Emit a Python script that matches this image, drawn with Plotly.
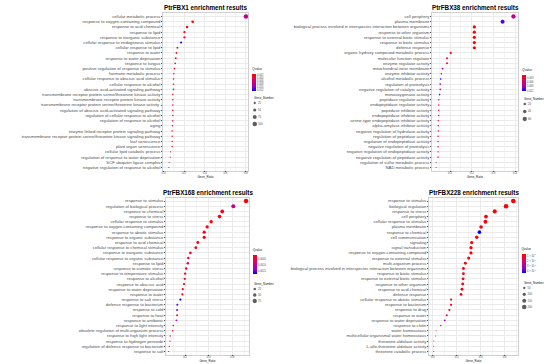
import plotly.graph_objects as go

W, H = 550, 364
FONT = "Liberation Sans, Arial, sans-serif"

# ---------------- PtrFBX1 ----------------
fbx1_terms = [
    "cellular metabolic process",
    "response to oxygen-containing compound",
    "response to acid chemical",
    "response to lipid",
    "response to inorganic substance",
    "cellular response to endogenous stimulus",
    "cellular response to lipid",
    "response to water",
    "response to water deprivation",
    "response to fungus",
    "positive regulation of response to stimulus",
    "hormone metabolic process",
    "cellular response to abscisic acid stimulus",
    "cellular response to alcohol",
    "abscisic acid-activated signaling pathway",
    "transmembrane receptor protein serine/threonine kinase activity",
    "transmembrane receptor protein kinase activity",
    "transmembrane receptor protein serine/threonine kinase activity ",
    "regulation of abscisic acid-activated signaling pathway",
    "regulation of cellular response to alcohol",
    "regulation of response to alcohol",
    "aging",
    "enzyme linked receptor protein signaling pathway",
    "transmembrane receptor protein serine/threonine kinase signaling pathway",
    "leaf senescence",
    "plant organ senescence",
    "cellular lipid catabolic process",
    "regulation of response to water deprivation",
    "SCF ubiquitin ligase complex",
    "negative regulation of response to alcohol",
]
fbx1_ratio = [0.80, 0.283, 0.229, 0.203, 0.203, 0.171, 0.135, 0.126, 0.119, 0.113,
              0.106, 0.100, 0.097, 0.097, 0.097, 0.090, 0.090, 0.090, 0.090, 0.090,
              0.090, 0.087, 0.084, 0.084, 0.084, 0.084, 0.068, 0.065, 0.055, 0.052]
fbx1_count = [100, 35, 29, 25, 25, 21, 17, 16, 15, 14, 13, 12, 12, 12, 12, 11, 11, 11, 11, 11,
              11, 11, 10, 10, 10, 10, 8, 8, 7, 6]
fbx1_q = [0.0075, 0.0010, 0.0012, 0.0016, 0.0028, 0.0125, 0.0018, 0.0015, 0.0016, 0.0020,
          0.0022, 0.0024, 0.0020, 0.0018, 0.0022, 0.0030, 0.0030, 0.0030, 0.0026, 0.0024,
          0.0026, 0.0035, 0.0032, 0.0032, 0.0028, 0.0028, 0.0040, 0.0045, 0.0050, 0.0050]
fbx1_qticks = [0.002, 0.004, 0.006, 0.008, 0.010, 0.012]
fbx1_qlabels = ["0.002", "0.004", "0.006", "0.008", "0.010", "0.012"]
fbx1_size_legend = [25, 50, 75, 100]

# ---------------- PtrFBX38 ----------------
fbx38_terms = [
    "cell periphery",
    "plasma membrane",
    "biological process involved in interspecies interaction between organisms",
    "response to other organism",
    "response to external biotic stimulus",
    "response to biotic stimulus",
    "defense response",
    "organic hydroxy compound metabolic process",
    "molecular function regulator",
    "enzyme regulator activity",
    "mitochondrial inner membrane",
    "enzyme inhibitor activity",
    "alcohol metabolic process",
    "regulation of proteolysis",
    "negative regulation of catalytic activity",
    "monooxygenase activity",
    "peptidase regulator activity",
    "endopeptidase regulator activity",
    "peptidase inhibitor activity",
    "endopeptidase inhibitor activity",
    "serine-type endopeptidase inhibitor activity",
    "alpha-amylase inhibitor activity",
    "negative regulation of hydrolase activity",
    "regulation of peptidase activity",
    "regulation of endopeptidase activity",
    "negative regulation of proteolysis",
    "negative regulation of endopeptidase activity",
    "negative regulation of peptidase activity",
    "regulation of sulfur metabolic process",
    "NAD metabolic process",
]
fbx38_ratio = [0.392, 0.342, 0.212, 0.212, 0.212, 0.212, 0.212, 0.103, 0.086, 0.086,
               0.066, 0.060, 0.057, 0.055, 0.055, 0.052, 0.048, 0.048, 0.048, 0.048,
               0.046, 0.046, 0.046, 0.045, 0.045, 0.045, 0.045, 0.045, 0.036, 0.036]
fbx38_count = [60, 53, 33, 33, 33, 33, 33, 16, 13, 13, 10, 9, 9, 9, 9, 8, 7, 7, 7, 7,
               7, 7, 7, 7, 7, 7, 7, 7, 2, 2]
fbx38_q = [0.0072, 0.0105, 0.0012, 0.0012, 0.0012, 0.0012, 0.0012, 0.0021, 0.0033, 0.0033,
           0.0084, 0.0052, 0.0120, 0.0065, 0.0065, 0.0105, 0.0040, 0.0040, 0.0045, 0.0045,
           0.0045, 0.0048, 0.0052, 0.0040, 0.0040, 0.0045, 0.0045, 0.0045, 0.0070, 0.0070]
fbx38_qticks = [0.003, 0.006, 0.009, 0.012]
fbx38_qlabels = ["0.003", "0.006", "0.009", "0.012"]
fbx38_size_legend = [20, 40, 60]

# ---------------- PtrFBX168 ----------------
fbx168_terms = [
    "response to stimulus",
    "regulation of biological process",
    "response to chemical",
    "response to stress",
    "cellular response to stimulus",
    "response to oxygen-containing compound",
    "response to abiotic stimulus",
    "response to organic substance",
    "response to acid chemical",
    "cellular response to chemical stimulus",
    "response to inorganic substance",
    "cellular response to organic substance",
    "response to lipid",
    "response to osmotic stress",
    "response to temperature stimulus",
    "response to alcohol",
    "response to abscisic acid",
    "response to water deprivation",
    "response to water",
    "response to salt stress",
    "defense response to bacterium",
    "response to cold",
    "response to heat",
    "response to antibiotic",
    "response to light intensity",
    "obsolete regulation of multi-organism process",
    "response to high light intensity",
    "response to hydrogen peroxide",
    "regulation of defense response to bacterium",
    "response to salt",
]
fbx168_ratio = [0.717, 0.609, 0.515, 0.492, 0.421, 0.387, 0.362, 0.362, 0.308, 0.291,
                0.245, 0.228, 0.223, 0.209, 0.200, 0.197, 0.191, 0.180, 0.177, 0.160,
                0.134, 0.132, 0.132, 0.126, 0.100, 0.095, 0.075, 0.072, 0.066, 0.060]
fbx168_count = [79, 67, 57, 54, 46, 43, 40, 40, 34, 32, 27, 25, 25, 23, 22, 22, 21, 20, 19, 18,
                15, 15, 15, 14, 11, 10, 8, 8, 7, 6]
fbx168_q = [0.00010, 0.00095, 0.00020, 0.00020, 0.00020, 0.00015, 0.00020, 0.00020, 0.00020, 0.00025,
            0.00030, 0.00070, 0.00060, 0.00030, 0.00025, 0.00030, 0.00030, 0.00030, 0.00030, 0.00170,
            0.00155, 0.00140, 0.00035, 0.00110, 0.00030, 0.00030, 0.00040, 0.00040, 0.00050, 0.00050]
fbx168_qticks = [0.0005, 0.0010, 0.0015]
fbx168_qlabels = ["0.0005", "0.0010", "0.0015"]
fbx168_size_legend = [25, 50, 75]

# ---------------- PtrFBX228 ----------------
fbx228_terms = [
    "response to stimulus",
    "biological regulation",
    "response to stress",
    "cell periphery",
    "cellular response to stimulus",
    "plasma membrane",
    "response to chemical",
    "cell communication",
    "signaling",
    "signal transduction",
    "response to oxygen-containing compound",
    "response to external stimulus",
    "multi-organism process",
    "biological process involved in interspecies interaction between organisms",
    "response to biotic stimulus",
    "response to external biotic stimulus",
    "response to other organism",
    "response to acid chemical",
    "defense response",
    "cellular response to abiotic stimulus",
    "response to bacterium",
    "response to drug",
    "response to water",
    "response to water deprivation",
    "response to chitin",
    "water homeostasis",
    "multicellular organismal water homeostasis",
    "threonine aldolase activity",
    "L-allo-threonine aldolase activity",
    "threonine catabolic process",
]
fbx228_ratio = [0.672, 0.611, 0.517, 0.444, 0.439, 0.403, 0.389, 0.367, 0.325, 0.319,
                0.319, 0.300, 0.272, 0.256, 0.256, 0.253, 0.250, 0.244, 0.236, 0.153,
                0.153, 0.139, 0.117, 0.100, 0.067, 0.028, 0.022, 0.008, 0.008, 0.008]
fbx228_count = [208, 189, 160, 138, 136, 125, 121, 114, 101, 99, 99, 93, 84, 79, 79, 78, 78, 76, 73, 47,
                47, 43, 36, 31, 21, 9, 7, 2, 2, 2]
fbx228_q = [0.7e-7, 0.7e-7, 0.7e-7, 0.8e-7, 0.8e-7, 0.8e-7, 4.3e-7, 0.9e-7, 0.8e-7, 0.8e-7,
            0.8e-7, 0.9e-7, 0.9e-7, 0.9e-7, 0.9e-7, 0.9e-7, 0.9e-7, 1.0e-7, 1.0e-7, 1.0e-7,
            1.0e-7, 1.1e-7, 1.2e-7, 3.3e-7, 1.9e-7, 1.5e-7, 1.5e-7, 2.0e-7, 2.0e-7, 2.0e-7]
fbx228_qticks = [1e-7, 2e-7, 3e-7, 4e-7]
fbx228_qlabels = ["1 × 10<sup>-7</sup>", "2 × 10<sup>-7</sup>", "3 × 10<sup>-7</sup>", "4 × 10<sup>-7</sup>"]
fbx228_size_legend = [50, 100, 150, 200]

# colours: low q-value red -> high q-value blue (Lab-like ramp)
CSCALE = [[0.0, "#0000FF"], [0.25, "#9A00C2"], [0.5, "#CA0089"], [0.75, "#E80050"], [1.0, "#FF0000"]]

panels = [
    dict(title="PtrFBX1 enrichment results", terms=fbx1_terms, ratio=fbx1_ratio, count=fbx1_count,
         q=fbx1_q, qticks=fbx1_qticks, qlabels=fbx1_qlabels, sizes=fbx1_size_legend,
         box=(163, 13.4, 248, 170.6), xrange=[-0.005, 0.82], dtick=0.2, maxd=4.5,
         cbar=(252.3, 65.0, 90.7), leg=(252.5, 98.0, 100.9, 126.1)),
    dict(title="PtrFBX38 enrichment results", terms=fbx38_terms, ratio=fbx38_ratio, count=fbx38_count,
         q=fbx38_q, qticks=fbx38_qticks, qlabels=fbx38_qlabels, sizes=fbx38_size_legend,
         box=(432, 13.4, 518, 170.6), xrange=[0.017, 0.413], dtick=0.1, maxd=4.3,
         cbar=(522.3, 66.0, 91.0), leg=(522.5, 99.5, 101.75, 121.25)),
    dict(title="PtrFBX168 enrichment results", terms=fbx168_terms, ratio=fbx168_ratio, count=fbx168_count,
         q=fbx168_q, qticks=fbx168_qticks, qlabels=fbx168_qlabels, sizes=fbx168_size_legend,
         box=(166, 197.9, 249, 354.6), xrange=[0.038, 0.742], dtick=0.2, maxd=4.3,
         cbar=(252.7, 245.5, 273.0), leg=(252.5, 284.0, 287.2, 302.8)),
    dict(title="PtrFBX228 enrichment results", terms=fbx228_terms, ratio=fbx228_ratio, count=fbx228_count,
         q=fbx228_q, qticks=fbx228_qticks, qlabels=fbx228_qlabels, sizes=fbx228_size_legend,
         box=(429, 197.9, 518, 354.6), xrange=[-0.031, 0.711], dtick=0.2, maxd=4.6,
         cbar=(521.5, 245.0, 273.0), leg=(522.0, 282.5, 286.1, 308.9)),
]

fig = go.Figure()
layout = dict(
    width=W, height=H, margin=dict(l=0, r=0, t=0, b=0),
    paper_bgcolor="white", plot_bgcolor="white",
    font=dict(family=FONT, color="#4D4D4D"), showlegend=False,
)
annotations = []

GRID = "#EBEBEB"
for i, p in enumerate(panels):
    k = i + 1
    xa = "x" if k == 1 else f"x{k}"
    ya = "y" if k == 1 else f"y{k}"
    x0, y0, x1, y1 = p["box"]
    n = len(p["terms"])
    # plotly area mode: diameter = sqrt(2 * v / sizeref)
    sref = 2.0 * max(p["sizes"]) / (p["maxd"] ** 2)
    qmin, qmax = min(p["q"]), max(p["q"])
    cbx, cbt, cbb = p["cbar"]

    fig.add_trace(go.Scatter(
        x=p["ratio"], y=p["terms"], mode="markers", xaxis=xa, yaxis=ya, cliponaxis=False,
        marker=dict(
            size=p["count"], sizemode="area", sizeref=sref, sizemin=0.5,
            color=[-v for v in p["q"]], cmin=-qmax, cmax=-qmin, colorscale=CSCALE,
            line=dict(width=0), opacity=1,
            showscale=True,
            colorbar=dict(
                x=cbx / W, xanchor="left", y=1 - cbt / H, yanchor="top",
                len=cbb - cbt, lenmode="pixels", thickness=3.7, thicknessmode="pixels",
                xpad=0, ypad=0, outlinewidth=0, ticks="", ticklabelposition="outside",
                tickvals=[-v for v in p["qticks"]], ticktext=p["qlabels"],
                tickfont=dict(size=2.6, color="#4D4D4D", family=FONT),
                title=dict(text="Qvalue", side="top", font=dict(size=3, color="#1A1A1A", family=FONT)),
            ),
        ),
        hoverinfo="skip",
    ))

    xkey = "xaxis" if k == 1 else f"xaxis{k}"
    ykey = "yaxis" if k == 1 else f"yaxis{k}"
    layout[xkey] = dict(
        domain=[x0 / W, x1 / W], anchor=ya, range=p["xrange"], dtick=p["dtick"], tick0=0,
        tickformat=".1f", tickfont=dict(size=2.8, color="#4D4D4D"),
        showgrid=True, gridcolor=GRID, gridwidth=0.6, zeroline=False,
        minor=dict(showgrid=True, gridcolor="#F4F4F4", gridwidth=0.4, dtick=p["dtick"] / 2, tick0=0),
        showline=True, linecolor="#D0D0D0", linewidth=0.6, mirror=True,
        ticks="outside", ticklen=0.8, tickwidth=0.5, tickcolor="#4D4D4D",
        ticklabelstandoff=-2,
        title=dict(text="Gene_Ratio", font=dict(size=3, color="#1A1A1A"), standoff=0.5),
        automargin=False, fixedrange=True,
    )
    layout[ykey] = dict(
        domain=[1 - y1 / H, 1 - y0 / H], anchor=xa, type="category",
        categoryorder="array", categoryarray=p["terms"], range=[n - 0.4, -0.6],
        tickfont=dict(size=4.2, color="#4D4D4D"),
        showgrid=True, gridcolor=GRID, gridwidth=0.6, zeroline=False,
        showline=True, linecolor="#D0D0D0", linewidth=0.6, mirror=True,
        ticks="outside", ticklen=1, tickwidth=0.5, tickcolor="#4D4D4D",
        automargin=False, fixedrange=True,
    )
    annotations.append(dict(
        text=f"<b>{p['title']}</b>", x=(x0 + x1) / 2 / W, y=1 - (y0 - 5.5) / H,
        xref="paper", yref="paper", xanchor="center", yanchor="middle", showarrow=False,
        font=dict(size=6.3, color="#000000", family=FONT),
    ))

    # size legend (Gene_Number) drawn on a small pair of axes
    lx, ltitle, ltop, lbot = p["leg"]
    lk = k + 4
    lxa, lya = f"x{lk}", f"y{lk}"
    labels = [str(v) for v in p["sizes"]]
    fig.add_trace(go.Scatter(
        x=[0] * len(labels), y=labels, mode="markers", xaxis=lxa, yaxis=lya, cliponaxis=False,
        marker=dict(size=[(2.0 * v / sref) ** 0.5 for v in p["sizes"]], color="#1A1A1A", line=dict(width=0)),
        hoverinfo="skip", showlegend=False,
    ))
    layout[f"xaxis{lk}"] = dict(domain=[lx / W, (lx + 4.5) / W], anchor=lya, range=[-1, 1],
                                visible=False, fixedrange=True)
    layout[f"yaxis{lk}"] = dict(domain=[1 - lbot / H, 1 - ltop / H], anchor=lxa, type="category",
                                categoryorder="array", categoryarray=labels,
                                range=[len(labels) - 0.7, -0.3], side="right",
                                showgrid=False, zeroline=False, showline=False, ticks="",
                                tickfont=dict(size=2.8, color="#4D4D4D"), automargin=False,
                                fixedrange=True)
    annotations.append(dict(
        text="Gene_Number", x=(lx - 0.3) / W, y=1 - ltitle / H, xref="paper", yref="paper",
        xanchor="left", yanchor="middle", showarrow=False,
        font=dict(size=3, color="#1A1A1A", family=FONT),
    ))

layout["annotations"] = annotations
fig.update_layout(**layout)
fig.write_html("out.html", config={"displayModeBar": False},
               post_script="document.body.style.margin='0';document.body.style.overflow='hidden';")
